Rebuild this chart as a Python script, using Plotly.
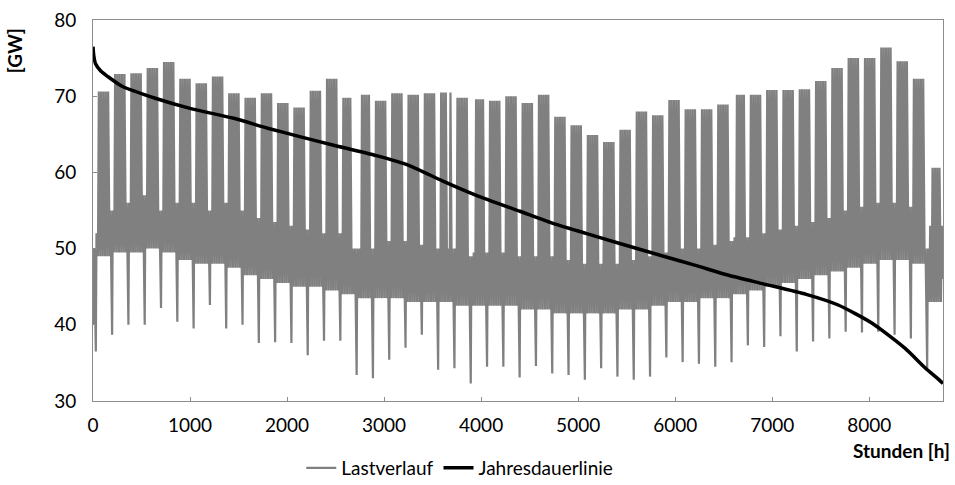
import plotly.graph_objects as go

# Hourly grid load, 2011 (1 Jan is a Saturday). Values in GW.
# Jan 1 (holiday) and Jan 2 (Sunday) precede the first full week.
new_year_low = [40.0, 36.5]
new_year_peak = [50.0, 52.0]

# Weeks run Monday..Sunday starting 3 Jan (week 0) through 31 Dec (week 51).
weekday_peak = [
    70.6, 72.9, 73.0, 73.7, 74.5, 72.3, 71.7, 72.6, 70.4, 69.8,
    70.4, 69.1, 68.5, 70.7, 72.3, 69.8, 70.2, 69.4, 70.4, 70.2,
    70.4, 70.5, 69.8, 69.6, 69.4, 70.0, 69.1, 70.2, 67.3, 66.2,
    64.9, 64.0, 65.6, 68.0, 67.5, 69.5, 68.3, 68.3, 68.9, 70.2,
    70.2, 70.8, 70.8, 70.9, 72.0, 73.7, 75.0, 75.0, 76.4, 74.6,
    72.3, 60.6,
]
weekday_low = [
    49.0, 49.5, 49.5, 50.0, 49.5, 48.5, 48.0, 48.0, 47.5, 46.5,
    46.0, 45.5, 45.0, 45.0, 44.5, 44.0, 43.5, 43.5, 43.5, 43.0,
    43.0, 43.0, 42.5, 42.5, 42.5, 42.5, 42.0, 42.0, 41.5, 41.5,
    41.5, 41.5, 42.0, 42.0, 42.5, 43.0, 43.0, 43.5, 43.5, 44.0,
    44.5, 45.0, 45.5, 46.0, 46.5, 47.0, 47.5, 48.0, 48.5, 48.5,
    48.0, 43.0,
]
weekend_peak = [
    55.0, 56.0, 57.0, 55.0, 56.0, 56.0, 55.0, 56.0, 55.0, 54.0,
    53.5, 53.0, 52.5, 52.0, 52.0, 50.0, 50.0, 51.0, 51.0, 50.5,
    50.0, 50.0, 49.0, 49.5, 49.5, 49.0, 49.0, 49.0, 48.5, 48.0,
    48.0, 48.0, 48.5, 49.0, 49.5, 50.0, 50.0, 50.5, 51.0, 51.5,
    52.0, 52.5, 53.0, 53.5, 54.0, 55.0, 55.5, 56.0, 56.0, 55.5,
    50.0, 53.0,
]
# Sunday early-morning minimum of each week (week 51 has no Sunday)
sunday_low = [
    38.7, 40.0, 40.0, 42.2, 40.4, 39.5, 42.6, 39.5, 40.0, 37.6,
    37.7, 37.6, 36.0, 37.9, 37.9, 33.4, 33.0, 35.4, 37.0, 38.7,
    34.1, 34.3, 32.3, 34.5, 34.5, 33.1, 34.6, 33.6, 33.4, 32.8,
    34.3, 33.2, 32.8, 33.2, 35.7, 35.1, 34.9, 34.5, 35.1, 37.3,
    37.1, 38.5, 36.5, 37.8, 38.2, 39.1, 39.0, 39.1, 38.7, 38.2,
    34.3,
]
# Public holidays on weekdays (day of year, 0 = 1 Jan)
holidays = [111, 114, 152, 163, 275, 359]
year_end_value = 46.0

# Load duration curve: (hour, GW)
duration_hours = [0, 8, 25, 80, 150, 300, 650, 1000, 1450, 1800, 2130, 2470,
                  2920, 3260, 3600, 3950, 4400, 4740, 5080, 5420, 5880,
                  6210, 6550, 6900, 7350, 7680, 8030, 8370, 8580, 8700, 8760]
duration_load = [76.5, 75.3, 74.3, 73.3, 72.6, 71.3, 69.7, 68.4, 67.1, 65.8,
                 64.7, 63.6, 62.2, 60.9, 58.9, 57.0, 54.9, 53.3, 52.0,
                 50.7, 49.0, 47.8, 46.5, 45.4, 44.0, 42.6, 40.2, 36.9, 34.3,
                 33.0, 32.3]

x_ticks = [0, 1000, 2000, 3000, 4000, 5000, 6000, 7000, 8000]
y_ticks = [30, 40, 50, 60, 70, 80]

DAYS = 365

# Assemble the load curve as night trough / midday peak per day
hours, load = [], []
for d in range(2):
    hours += [d * 24 + 5, d * 24 + 12]
    load += [new_year_low[d], new_year_peak[d]]
for w in range(len(weekday_peak)):
    for k in range(7):
        d = 2 + 7 * w + k
        if d >= DAYS:
            break
        if k == 6:
            low_h, low_v, peak_v = 5, sunday_low[w], weekend_peak[w]
        elif k == 5 or d in holidays:
            low_h, low_v, peak_v = 3, weekday_low[w], weekend_peak[w]
        else:
            low_h, low_v, peak_v = 3, weekday_low[w], weekday_peak[w]
        hours += [d * 24 + low_h, d * 24 + 12]
        load += [low_v, peak_v]
hours.append(DAYS * 24 - 1)
load.append(year_end_value)

FONT = "Lato"
FONT_SIZE = 19
AXIS_GREY = "#8c8c8c"

fig = go.Figure()
fig.add_trace(go.Scatter(
    x=hours, y=load, mode="lines", name="Lastverlauf",
    line=dict(color="#808080", width=2.2),
))
fig.add_trace(go.Scatter(
    x=duration_hours, y=duration_load, mode="lines", name="Jahresdauerlinie",
    line=dict(color="#000000", width=3.5, shape="spline", smoothing=0.6),
))

fig.update_layout(
    width=955, height=485,
    margin=dict(l=93, r=12, t=20, b=84, autoexpand=False),
    paper_bgcolor="white", plot_bgcolor="white",
    font=dict(family=FONT, size=FONT_SIZE, color="#000000"),
    showlegend=True,
    legend=dict(orientation="h", x=0.245, xanchor="left",
                yref="container", y=1 - 468 / 485, yanchor="middle",
                font=dict(family=FONT, size=FONT_SIZE),
                bgcolor="rgba(0,0,0,0)", itemwidth=30),
    xaxis=dict(
        range=[0, 8760], tickvals=x_ticks, ticktext=[str(v) for v in x_ticks],
        showgrid=False, zeroline=False, showline=True, mirror=True,
        linecolor=AXIS_GREY, linewidth=1, ticks="inside", ticklen=4,
        tickcolor=AXIS_GREY, ticklabelstandoff=7, automargin=False,
    ),
    yaxis=dict(
        range=[30, 80], tickvals=y_ticks, ticktext=[str(v) for v in y_ticks],
        showgrid=False, zeroline=False, showline=True, mirror=True,
        linecolor=AXIS_GREY, linewidth=1, ticks="inside", ticklen=4,
        tickcolor=AXIS_GREY, ticklabelstandoff=12, automargin=False,
    ),
    annotations=[
        dict(text="<b>[GW]</b>", xref="paper", yref="paper",
             x=-0.092, y=0.92, textangle=-90, showarrow=False,
             xanchor="center", yanchor="middle",
             font=dict(family=FONT, size=FONT_SIZE)),
        dict(text="<b>Stunden [h]</b>", xref="paper", yref="paper",
             x=1.01, y=(401 - 451) / 381, showarrow=False, xanchor="right",
             yanchor="middle", font=dict(family=FONT, size=FONT_SIZE)),
    ],
)

fig.write_html("out.html")
